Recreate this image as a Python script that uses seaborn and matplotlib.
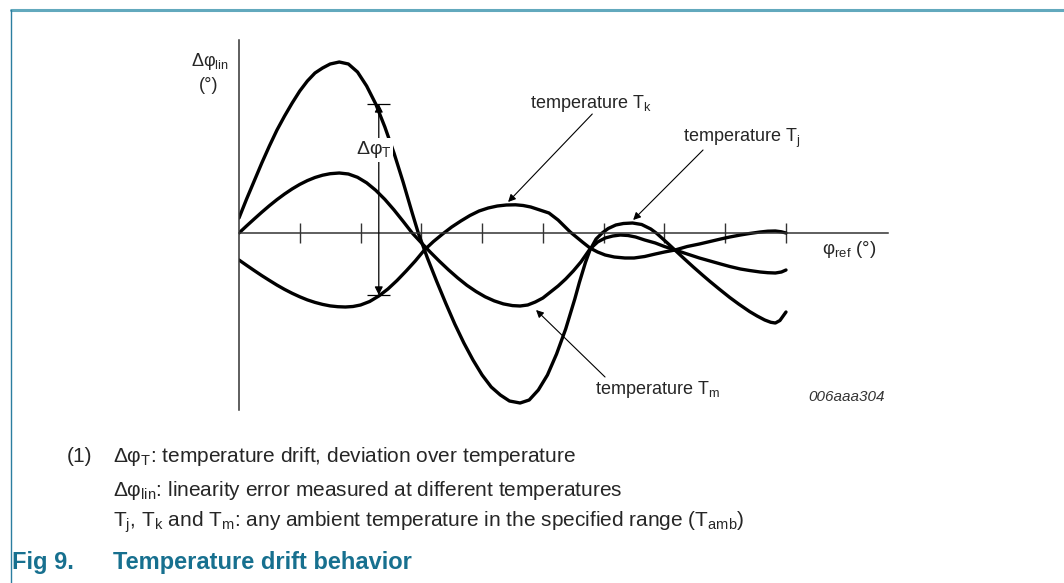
import numpy as np
import pandas as pd
import matplotlib
matplotlib.use("Agg")
import matplotlib.pyplot as plt
import seaborn as sns
from matplotlib.lines import Line2D

# ---------------- data ----------------
# phi_ref in degrees (0..360), linearity error in arbitrary units
phi_j = [0, 5, 10, 15, 20, 25, 30, 35, 40, 45, 50, 55, 60, 66, 72, 78, 84, 90, 96, 102,
         108, 114, 118, 124, 130, 136, 142, 148, 154, 160, 166, 172, 178, 185, 191, 197, 203, 209, 215, 221,
         224, 228, 231, 235, 239, 243, 248, 253, 259, 265, 271, 275, 279, 283, 287, 293, 299, 305, 310, 316,
         323, 329, 336, 341, 346, 350, 353, 356, 360]
err_j = [1.5, 3.4, 5.2, 7.0, 8.7, 10.3, 11.7, 13.0, 14.2, 15.2, 16.0, 16.5, 16.9, 17.1, 16.9, 16.1, 14.7, 12.9, 10.6, 8.0,
         5.1, 2.0, 0.0, -2.5, -4.8, -7.0, -9.1, -11.0, -12.7, -14.2, -15.4, -16.2, -16.8, -17.0, -16.7, -15.7, -14.2, -12.1, -9.6, -6.6,
         -4.95, -2.95, -1.7, -0.6, 0.0, 0.45, 0.8, 0.95, 1.0, 0.85, 0.4, -0.05, -0.6, -1.15, -1.72, -2.57, -3.4, -4.2, -4.85, -5.6,
         -6.45, -7.12, -7.85, -8.3, -8.7, -8.93, -9.0, -8.75, -7.9]

phi_m = [0, 5, 10, 15, 20, 25, 30, 35, 40, 45, 50, 55, 60, 66, 72, 78, 84, 90, 96, 102,
         108, 114, 120, 126, 132, 138, 144, 150, 156, 162, 168, 174, 180, 185, 190, 195, 200, 205, 210, 215,
         220, 225, 231, 236, 241, 246, 251, 256, 261, 267, 274, 280, 287, 295, 303, 310, 317, 323, 330, 336,
         343, 348, 353, 357, 360]
err_m = [0.0, 0.71, 1.40, 2.08, 2.73, 3.34, 3.90, 4.41, 4.86, 5.24, 5.55, 5.78, 5.93, 6.0, 5.9, 5.57, 5.02, 4.27, 3.36, 2.31,
         1.17, 0.0, -0.98, -1.93, -2.84, -3.70, -4.50, -5.23, -5.85, -6.38, -6.79, -7.09, -7.26, -7.3, -7.2, -6.9, -6.5, -5.9, -5.3, -4.6,
         -3.8, -2.9, -1.6, -0.9, -0.5, -0.3, -0.2, -0.25, -0.4, -0.7, -1.0, -1.35, -1.7, -2.1, -2.5, -2.8, -3.1, -3.35, -3.6, -3.75,
         -3.9, -3.97, -4.0, -3.9, -3.7]

phi_k = [0, 5, 10, 15, 20, 25, 30, 35, 40, 45, 50, 55, 60, 65, 70, 75, 80, 86, 92, 98,
         104, 110, 116, 122, 128, 134, 140, 146, 152, 158, 164, 170, 176, 182, 187, 192, 198, 204, 210, 214,
         218, 222, 226, 231, 236, 241, 247, 254, 260, 267, 274, 280, 287, 295, 303, 310, 317, 323, 330, 336,
         343, 348, 353, 357, 360]
err_k = [-2.7, -3.23, -3.75, -4.26, -4.74, -5.21, -5.64, -6.03, -6.38, -6.69, -6.94, -7.14, -7.29, -7.37, -7.4, -7.35, -7.2, -6.85, -6.3, -5.6,
         -4.75, -3.8, -2.8, -1.7, -0.85, -0.1, 0.6, 1.2, 1.75, 2.2, 2.5, 2.7, 2.8, 2.82, 2.75, 2.6, 2.3, 2.0, 1.3, 0.7,
         0.1, -0.4, -0.9, -1.5, -1.9, -2.2, -2.4, -2.5, -2.5, -2.35, -2.1, -1.9, -1.7, -1.35, -1.1, -0.85, -0.6, -0.4, -0.2, -0.05,
         0.1, 0.18, 0.2, 0.12, 0.0]

x_ticks = [40, 80, 120, 160, 200, 240, 280, 320, 360]
drift_phi = 92          # position of the delta-phi_T indicator
drift_top = 12.9
drift_bottom = -6.2

curve_names = ["Tj", "Tm", "Tk"]

df = pd.concat([
    pd.DataFrame({"phi": phi_j, "err": err_j, "curve": "Tj"}),
    pd.DataFrame({"phi": phi_m, "err": err_m, "curve": "Tm"}),
    pd.DataFrame({"phi": phi_k, "err": err_k, "curve": "Tk"}),
], ignore_index=True)

# ---------------- style ----------------
sns.set_theme(style="white")
plt.rcParams["font.family"] = ["Liberation Sans", "DejaVu Sans"]
plt.rcParams["mathtext.fontset"] = "custom"
plt.rcParams["mathtext.rm"] = "Liberation Sans"
plt.rcParams["mathtext.it"] = "Liberation Sans:italic"
plt.rcParams["mathtext.bf"] = "Liberation Sans:bold"

W, H = 1064, 583
fig = plt.figure(figsize=(W / 100, H / 100), dpi=100)
fig.patch.set_facecolor("white")

def fx(px):
    return px / W

def fy(py):
    return 1 - py / H

# axes: y-axis at x=239px, x-axis line to 888px; vertical range 40..410 px
xscale = 547 / 360.0       # px per degree
yscale = 10.0              # px per unit
ax = fig.add_axes([fx(239), fy(410), (888 - 239) / W, 370 / H])
ax.set_xlim(0, (888 - 239) / xscale)
ax.set_ylim((233 - 410) / yscale, (233 - 40) / yscale)
ax.patch.set_alpha(0)

for s in ["top", "right"]:
    ax.spines[s].set_visible(False)
ax.spines["bottom"].set_position(("data", 0))
for s in ["left", "bottom"]:
    ax.spines[s].set_color("#333333")
    ax.spines[s].set_linewidth(1.1)

ax.set_xticks(x_ticks)
ax.set_yticks([])
ax.tick_params(axis="x", direction="inout", length=15, width=1.0, color="#333333",
               labelbottom=False, bottom=True)

sns.lineplot(data=df, x="phi", y="err", hue="curve", hue_order=curve_names,
             palette={c: "black" for c in curve_names}, estimator=None, sort=False,
             legend=False, linewidth=2.4, ax=ax,
             solid_joinstyle="round", solid_capstyle="round")
ax.set_xlabel("")
ax.set_ylabel("")

# delta phi_T indicator
ax.annotate("", xy=(drift_phi, drift_top), xytext=(drift_phi, drift_bottom),
            arrowprops=dict(arrowstyle="<|-|>", color="black", lw=0.9,
                            mutation_scale=12, shrinkA=0, shrinkB=0))
ax.hlines([drift_top, drift_bottom], drift_phi - 7.5, drift_phi + 7.5, color="black", lw=0.9)
ax.text(drift_phi - 3.5, 8.3, "Δφ$_{\\mathrm{T}}$", ha="center", va="center", fontsize=14,
        bbox=dict(facecolor="white", edgecolor="none", pad=1.0))

# curve labels with arrows
arrow_kw = dict(arrowstyle="-|>", color="black", lw=0.8, mutation_scale=11, shrinkA=0, shrinkB=0)
ax.text(191.6, 13.0, "temperature T$_{\\mathrm{k}}$", ha="left", va="center", fontsize=13)
ax.annotate("", xy=(177.1, 3.1), xytext=(232.5, 11.9), arrowprops=arrow_kw)

ax.text(292.3, 9.5, "temperature T$_{\\mathrm{j}}$", ha="left", va="center", fontsize=13)
ax.annotate("", xy=(259.4, 1.3), xytext=(305.4, 8.3), arrowprops=arrow_kw)

ax.text(234.3, -15.7, "temperature T$_{\\mathrm{m}}$", ha="left", va="center", fontsize=13)
ax.annotate("", xy=(195.5, -7.7), xytext=(240.9, -14.4), arrowprops=arrow_kw)

ax.text(383.8, -1.7, "φ$_{\\mathrm{ref}}$ (°)", ha="left", va="center", fontsize=13.5, clip_on=False)
ax.text(374.5, -16.4, "006aaa304", ha="left", va="center", fontsize=11, style="italic",
        color="#333333")

fig.text(fx(229), fy(62), "Δφ$_{\\mathrm{lin}}$", ha="right", va="center", fontsize=13)
fig.text(fx(209), fy(85), "(°)", ha="center", va="center", fontsize=13)

# footnotes
fs = 15
fig.text(fx(67), fy(456), "(1)", ha="left", va="center", fontsize=fs)
fig.text(fx(113), fy(456), "Δφ$_{\\mathrm{T}}$: temperature drift, deviation over temperature",
         ha="left", va="center", fontsize=fs)
fig.text(fx(113), fy(490), "Δφ$_{\\mathrm{lin}}$: linearity error measured at different temperatures",
         ha="left", va="center", fontsize=fs)
fig.text(fx(113), fy(522),
         "T$_{\\mathrm{j}}$, T$_{\\mathrm{k}}$ and T$_{\\mathrm{m}}$: any ambient temperature in the specified range (T$_{\\mathrm{amb}}$)",
         ha="left", va="center", fontsize=fs)

teal = "#17708f"
fig.text(fx(12), fy(563), "Fig 9.", ha="left", va="center", fontsize=17, fontweight="bold",
         color=teal)
fig.text(fx(113), fy(563), "Temperature drift behavior", ha="left", va="center", fontsize=17,
         fontweight="bold", color=teal)

# frame lines
fig.add_artist(Line2D([fx(11), 1.0], [fy(10), fy(10)], transform=fig.transFigure,
                      color="#62a9bd", lw=2.2))
fig.add_artist(Line2D([fx(11), fx(11)], [0.0, fy(10)], transform=fig.transFigure,
                      color="#2b7ea0", lw=1.0))

fig.savefig("out.png", dpi=100, facecolor="white")
